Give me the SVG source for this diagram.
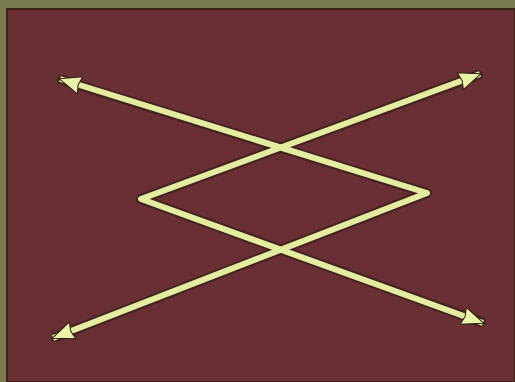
<svg xmlns="http://www.w3.org/2000/svg" width="515" height="382" viewBox="0 0 515 382">
<defs>
<style>
.sh{fill:none;stroke:#2a1a12;stroke-width:10;stroke-linejoin:round;stroke-linecap:round;opacity:0.6}
.ln{fill:none;stroke:#e4eca0;stroke-width:6;stroke-linejoin:round;marker-start:url(#ah);marker-end:url(#ah)}
</style>
<marker id="ah" markerUnits="userSpaceOnUse" viewBox="0 0 24 20" refX="22" refY="10" markerWidth="24" markerHeight="20" orient="auto-start-reverse">
<path d="M1,1 L23,10 L1,19 L3,10 Z" fill="#eaf2a8" stroke="#2a1a12" stroke-width="1" stroke-linejoin="round"/>
</marker>
</defs>
<rect x="0" y="0" width="515" height="382" fill="#7a7b4c"/>
<rect x="7" y="9" width="508" height="373" fill="#6a2f35" stroke="#3a2218" stroke-width="2"/>
<g id="connectors">
<path class="sh" d="M62,80 L427,193 L56,337"/>
<path class="sh" d="M478,75 L141,199 L481,322"/>
<path class="ln" d="M60,79 L427,193 L53,338"/>
<path class="ln" d="M480,74 L141,199 L483,323"/>
</g>
</svg>
